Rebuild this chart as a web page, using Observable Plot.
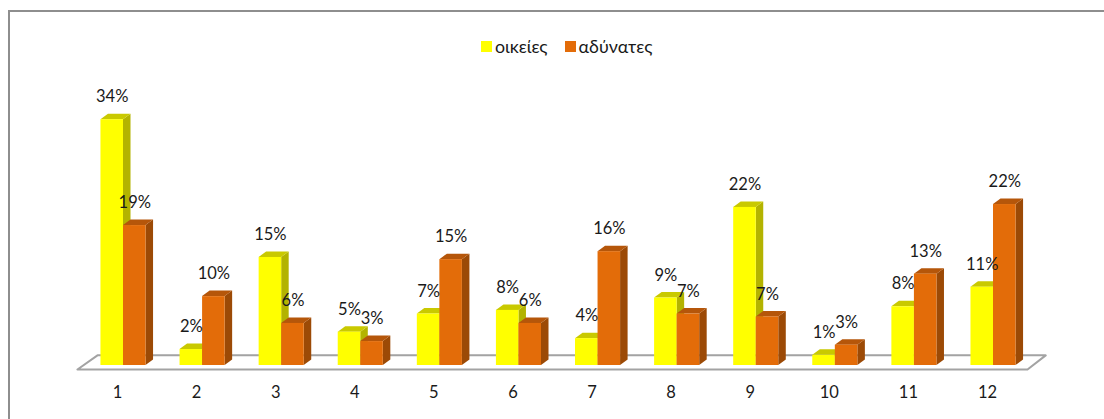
<!DOCTYPE html>
<html>
<head>
<meta charset="utf-8">
<script src="https://cdn.jsdelivr.net/npm/d3@7"></script>
<script src="https://cdn.jsdelivr.net/npm/@observablehq/plot@0.6"></script>
<style>
  html, body { margin: 0; padding: 0; background: #fff; }
  #chart { position: relative; width: 1104px; height: 419px; overflow: hidden; font-family: Lato, "Open Sans", sans-serif; }
  #chart svg { position: absolute; left: 0; top: 0; display: block; }
  #edge { position: absolute; left: 8px; top: 10px; right: -4px; bottom: -4px; border-top: 2px solid #8e8e8e; border-left: 2px solid #8e8e8e; }
  #legend { position: absolute; left: 481px; top: 35px; display: flex; align-items: center; font-size: 17.8px; color: #1a1a1a; line-height: 22px; }
  #legend i { display: inline-block; width: 11px; height: 11px; margin-right: 3px; }
  #legend span { margin-right: 17px; }
</style>
</head>
<body>
<div id="chart"><div id="edge"></div><div id="legend"></div></div>
<script>
const categories = [1, 2, 3, 4, 5, 6, 7, 8, 9, 10, 11, 12];
const seriesNames = ["οικείες", "αδύνατες"];
const oikeies   = [33.9, 2.2, 14.9, 4.6, 7.1, 7.6, 3.7, 9.3, 21.8, 1.4, 8.1, 10.8];
const adynates  = [19.3, 9.5, 5.8, 3.3, 14.6, 5.8, 15.7, 7.1, 6.7, 2.8, 12.6, 22.2];
const palette = {
  "οικείες":  {front: "#ffff00", side: "#b3b300", top: "#c9c900"},
  "αδύνατες": {front: "#e36c09", side: "#9c4a06", top: "#b5560a"}
};

const barW = 0.285, depthX = 0.095, depthY = 0.76;
const floorFront = -0.55, floorBack = 1.4;
const floorLine = [
  {x: 0.418, y: floorFront}, {x: 12.43, y: floorFront},
  {x: 12.66, y: floorBack}, {x: 0.671, y: floorBack}, {x: 0.418, y: floorFront}
];

function rows(name, values, left) {
  return values.map((v, i) => ({
    id: name + categories[i], name, v,
    x1: categories[i] + left, x2: categories[i] + left + barW
  }));
}
function sideFaces(bars) {
  return bars.flatMap(b => [
    {id: b.id, x: b.x2, y1: 0, y2: b.v},
    {id: b.id, x: b.x2 + depthX, y1: depthY, y2: b.v + depthY}
  ]);
}
function topFaces(bars) {
  return bars.flatMap(b => [
    {id: b.id, y: b.v, x1: b.x1, x2: b.x2},
    {id: b.id, y: b.v + depthY, x1: b.x1 + depthX, x2: b.x2 + depthX}
  ]);
}
function barMarks(bars, colors) {
  return [
    Plot.areaY(sideFaces(bars), {x: "x", y1: "y1", y2: "y2", z: "id", fill: colors.side}),
    Plot.areaX(topFaces(bars), {y: "y", x1: "x1", x2: "x2", z: "id", fill: colors.top}),
    Plot.rect(bars, {x1: "x1", x2: "x2", y1: 0, y2: "v", fill: colors.front})
  ];
}
const pct = d => Math.round(d.v) + "%";

const yellowBars = rows(seriesNames[0], oikeies, -barW);
const orangeBars = rows(seriesNames[1], adynates, 0);

const svg = Plot.plot({
  width: 1104,
  height: 419,
  marginLeft: 43.9,
  marginRight: 31.9,
  marginTop: 0,
  marginBottom: 54,
  style: {background: "transparent", fontFamily: "Lato, 'Open Sans', sans-serif"},
  x: {type: "linear", domain: [0, 13], axis: null},
  y: {domain: [0, 50.34], axis: null},
  marks: [
    Plot.line(floorLine, {x: "x", y: "y", stroke: "#a3a3a3", strokeWidth: 2}),
    ...barMarks(yellowBars, palette[seriesNames[0]]),
    ...barMarks(orangeBars, palette[seriesNames[1]]),
    Plot.text([...yellowBars, ...orangeBars], {
      x: d => (d.x1 + d.x2) / 2, y: "v", text: pct, dy: -22.7, dx: 0,
      fontSize: 16.5, fill: "#1a1a1a"
    }),
    Plot.axisX({ticks: categories, tickSize: 0, tickPadding: 20.5, dx: -6, tickFormat: d => String(d),
      fontSize: 16.5, fill: "#1a1a1a", label: null})
  ]
});
document.getElementById("chart").prepend(svg);

const legend = document.getElementById("legend");
seriesNames.forEach(name => {
  const swatch = document.createElement("i");
  swatch.style.background = palette[name].front;
  const label = document.createElement("span");
  label.textContent = name;
  legend.append(swatch, label);
});
</script>
</body>
</html>
